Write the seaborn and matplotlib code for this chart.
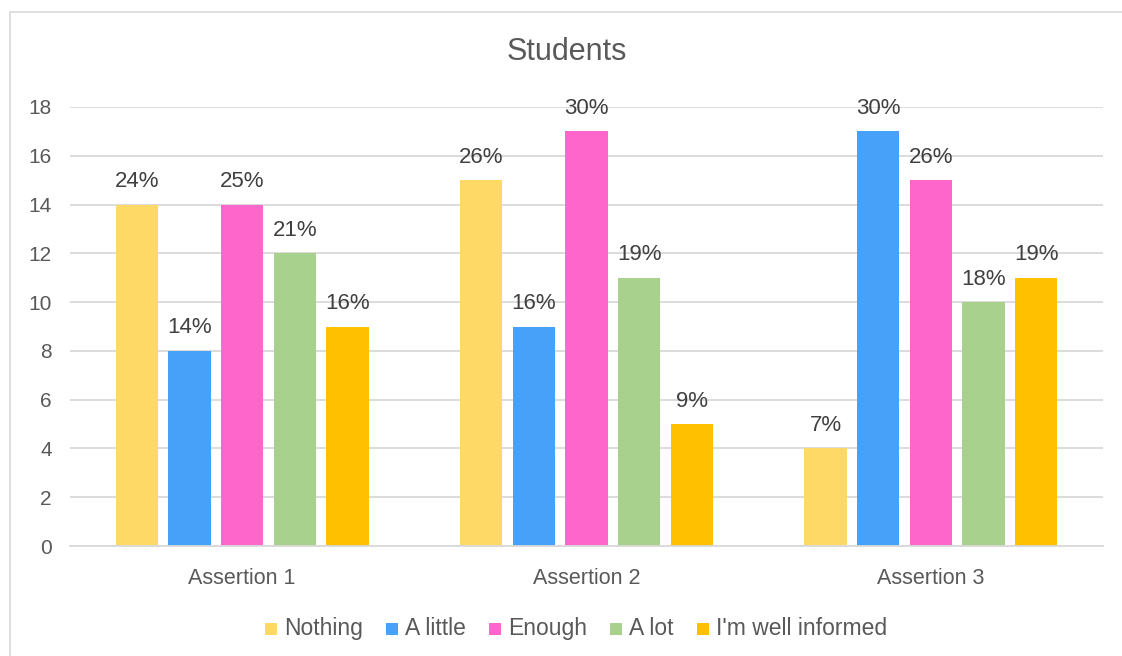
import matplotlib
matplotlib.use("Agg")
import matplotlib.pyplot as plt
import matplotlib.patches as mpatches
import seaborn as sns
import pandas as pd

categories = ["Assertion 1", "Assertion 2", "Assertion 3"]
levels = ["Nothing", "A little", "Enough", "A lot", "I'm well informed"]
counts = {
    "Nothing": [14, 15, 4],
    "A little": [8, 9, 17],
    "Enough": [14, 17, 15],
    "A lot": [12, 11, 10],
    "I'm well informed": [9, 5, 11],
}
percent_labels = {
    "Nothing": ["24%", "26%", "7%"],
    "A little": ["14%", "16%", "30%"],
    "Enough": ["25%", "30%", "26%"],
    "A lot": ["21%", "19%", "18%"],
    "I'm well informed": ["16%", "9%", "19%"],
}
colors = ["#FFD966", "#47A1F8", "#FF66CC", "#A9D18E", "#FFC000"]
y_ticks = [0, 2, 4, 6, 8, 10, 12, 14, 16, 18]

rows = []
for lvl in levels:
    for cat, val in zip(categories, counts[lvl]):
        rows.append({"category": cat, "level": lvl, "count": val})
df = pd.DataFrame(rows)

sns.set_theme(style="white")
font = ["Liberation Sans", "DejaVu Sans"]
plt.rcParams["font.family"] = font
text_color = "#595959"

W, H = 1122, 656
fig = plt.figure(figsize=(W / 100, H / 100), dpi=100)
ax = fig.add_axes([70 / W, 1 - 546 / H, (1103 - 70) / W, (546 - 107) / H])

sns.barplot(data=df, x="category", y="count", hue="level", order=categories,
            hue_order=levels, palette=colors, width=0.765, gap=0.2,
            saturation=1, linewidth=0, ax=ax, legend=False)

for container, lvl in zip(ax.containers, levels):
    ax.bar_label(container, labels=percent_labels[lvl], padding=9,
                 fontsize=16, color="#404040", family=font)

ax.set_xlim(-0.5, 2.5)
ax.set_ylim(0, 18)
ax.set_yticks(y_ticks)
ax.yaxis.grid(True, color="#D9D9D9", linewidth=1.3)
ax.set_axisbelow(True)
for s in ["top", "right", "left"]:
    ax.spines[s].set_visible(False)
ax.spines["bottom"].set_color("#D9D9D9")
ax.spines["bottom"].set_linewidth(1.3)
ax.tick_params(axis="both", length=0, labelcolor=text_color)
ax.tick_params(axis="y", pad=13, labelsize=15)
ax.tick_params(axis="x", pad=16, labelsize=15.5)
ax.set_xlabel("")
ax.set_ylabel("")

fig.text(567 / W, 1 - 52 / H, "Students", ha="center",
         va="center", fontsize=22, color=text_color, family=font)

# Legend row: square swatch + label, all labels on one shared baseline
renderer = fig.canvas.get_renderer()
baseline_px, swatch_px, swatch_gap, item_gap = 635, 12, 7, 23
texts = [fig.text(0, 1 - baseline_px / H, lvl, va="baseline", ha="left",
                  fontsize=16.5, color=text_color, family=font)
         for lvl in levels]
widths = [t.get_window_extent(renderer).width for t in texts]
total = sum(swatch_px + swatch_gap + w for w in widths) + item_gap * (len(levels) - 1)
x = 576 - total / 2
for t, w, c in zip(texts, widths, colors):
    fig.patches.append(mpatches.Rectangle(
        (x / W, 1 - baseline_px / H), swatch_px / W, swatch_px / H,
        transform=fig.transFigure, facecolor=c, edgecolor="none"))
    t.set_x((x + swatch_px + swatch_gap) / W)
    x += swatch_px + swatch_gap + w + item_gap

fig.patches.append(mpatches.Rectangle((10 / W, -0.05), 1.1, 1 - 12 / H + 0.05,
                                      transform=fig.transFigure, fill=False,
                                      edgecolor="#D9D9D9", linewidth=1.2))

fig.savefig("out.png", dpi=100)
